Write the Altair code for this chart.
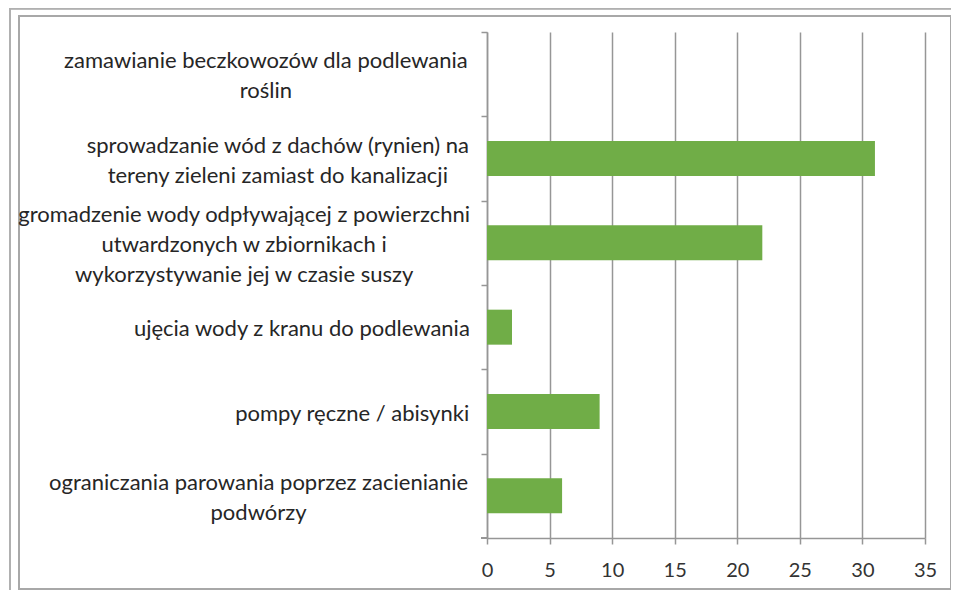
import altair as alt
import pandas as pd

# ---- data ----
label_lines = [
    ["zamawianie beczkowozów dla podlewania", "roślin"],
    ["sprowadzanie wód z dachów (rynien) na", "tereny zieleni zamiast do kanalizacji"],
    ["gromadzenie wody odpływającej z powierzchni", "utwardzonych w zbiornikach i", "wykorzystywanie jej w czasie suszy"],
    ["ujęcia wody z kranu do podlewania"],
    ["pompy ręczne / abisynki"],
    ["ograniczania parowania poprzez zacienianie", "podwórzy"],
]
values = [0, 31, 22, 2, 9, 6]
x_ticks = [0, 5, 10, 15, 20, 25, 30, 35]

FONT = "Lato"
LABEL_SIZE = 22
AXIS_GAP = 21
LINE_H = 30

# approximate advance widths (em) for label centring
_W = {" ": 0.19, "i": 0.23, "l": 0.23, "j": 0.23, "ł": 0.26, "f": 0.33, "t": 0.34,
      "r": 0.35, "(": 0.3, ")": 0.3, "/": 0.36, "s": 0.42, "ś": 0.42, "z": 0.46,
      "ż": 0.46, "c": 0.46, "g": 0.51, "a": 0.51, "ą": 0.51, "e": 0.53, "ę": 0.53,
      "y": 0.5, "v": 0.5, "k": 0.5, "m": 0.84, "w": 0.76}


def text_width(s):
    return sum(_W.get(ch, 0.56) for ch in s) * LABEL_SIZE


categories = [" ".join(l) for l in label_lines]
df = pd.DataFrame({
    "kategoria": categories,
    "wartosc": values,
    "etykieta": ["\n".join(l) for l in label_lines],
    "n": [len(l) for l in label_lines],
})
df["lx"] = [-(AXIS_GAP + max(text_width(s) for s in l) / 2) for l in label_lines]

W, H = 438, 506
GRID = "#969696"

yscale = alt.Scale(domain=categories, paddingInner=0.585, paddingOuter=0.2925)

bars = alt.Chart(df).mark_bar(color="#70ad47").encode(
    x=alt.X("wartosc:Q", scale=alt.Scale(domain=[0, 35], nice=False),
            axis=alt.Axis(values=x_ticks, title=None, grid=True, gridColor=GRID,
                          gridWidth=1.5, domainColor=GRID, domainWidth=1.5,
                          tickColor=GRID, tickWidth=1.5, tickSize=6,
                          labelFont=FONT, labelFontSize=20, labelColor="#333333",
                          labelPadding=16, labelFlush=False)),
    y=alt.Y("kategoria:N", sort=None, scale=yscale,
            axis=alt.Axis(title=None, labels=False, bandPosition=0.5,
                          tickOffset=-H / 12, domainColor=GRID,
                          domainWidth=1.5, tickColor=GRID, tickWidth=1.5, tickSize=6,
                          grid=False)),
)


def label_layer(k):
    return alt.Chart(df).transform_filter(alt.datum.n == k).mark_text(
        font=FONT, fontSize=LABEL_SIZE, align="center", baseline="middle",
        lineBreak="\n", lineHeight=LINE_H, color="#262626",
        dy=2 - (k - 1) * LINE_H / 2,
    ).encode(
        x=alt.X("lx:Q", scale=None),
        y=alt.Y("kategoria:N", sort=None, scale=yscale),
        text="etykieta:N",
    )


frame = alt.Chart(df).mark_rect(fill=None, stroke="#a8a8a8", strokeWidth=1.5).encode(
    x=alt.value(-468), x2=alt.value(464), y=alt.value(-16), y2=alt.value(557)
)
outer_left = alt.Chart(df).mark_rule(color="#b0b0b0", strokeWidth=1.5).encode(
    x=alt.value(-477), y=alt.value(-24), y2=alt.value(558)
)
outer_top = alt.Chart(df).mark_rule(color="#b0b0b0", strokeWidth=1.5).encode(
    x=alt.value(-477), x2=alt.value(464), y=alt.value(-23.5)
)
bottom_tick = alt.Chart(df).mark_rule(color=GRID, strokeWidth=1.5).encode(
    x=alt.value(-6), x2=alt.value(0), y=alt.value(H)
)

chart = alt.layer(frame, outer_left, outer_top, bars,
                  label_layer(1), label_layer(2), label_layer(3),
                  bottom_tick).properties(
    width=W, height=H,
    autosize=alt.AutoSizeParams(type="none"),
    padding={"left": 479, "top": 24, "right": 26, "bottom": 52},
    background="white",
).configure_view(stroke=None)

chart.save("out.html", embed_options={"renderer": "svg", "actions": False})
